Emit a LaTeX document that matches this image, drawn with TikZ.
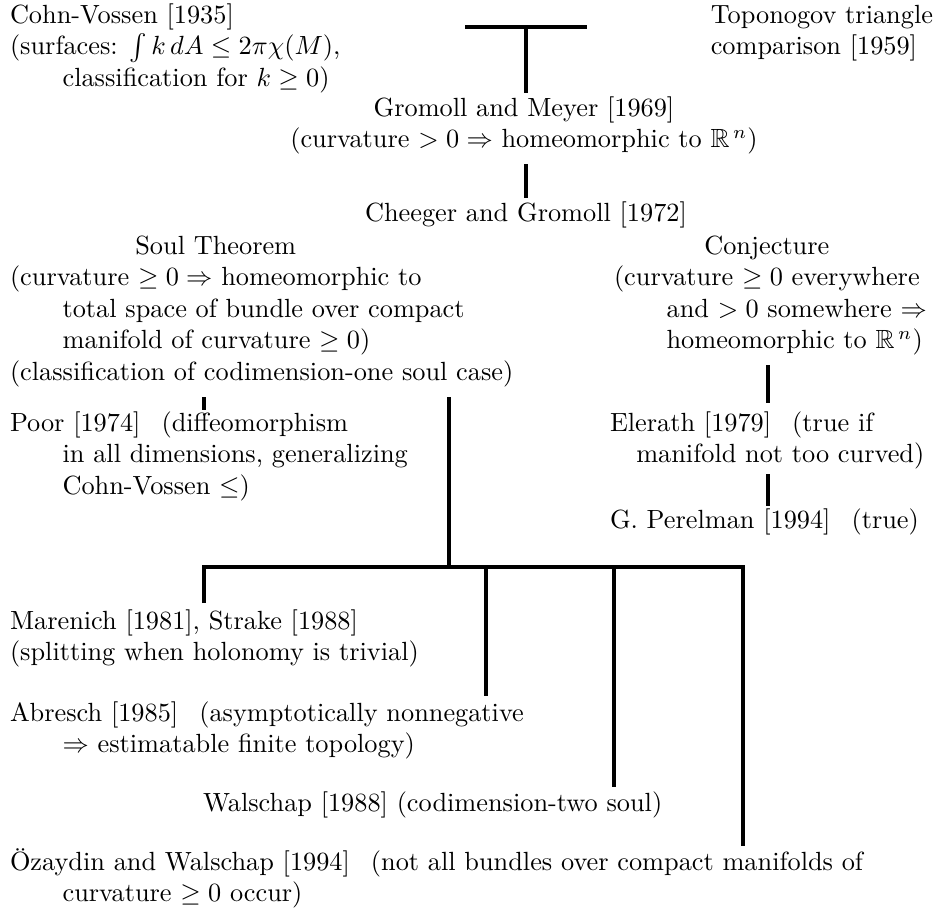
\documentclass[tikz,border=0pt]{standalone}
\usepackage{amssymb}
\usepackage{calc}
\newcommand{\ind}{\hspace*{2em}}
\newcommand{\gap}{\hspace{8pt}}
\begin{document}
\begin{tikzpicture}[x=0.3802pt, y=-0.3802pt,
  txt/.style={inner sep=0pt, outer sep=0pt, anchor=base west},
  ctxt/.style={inner sep=0pt, outer sep=0pt, anchor=base},
  rtxt/.style={inner sep=0pt, outer sep=0pt, anchor=base east},
  link/.style={line width=1.25pt, line cap=butt}]
\useasboundingbox (0,0) rectangle (937,907);

% nodes
\node[txt] (cv) at (10,23) {\begin{tabular}[t]{@{}l@{}}
Cohn-Vossen [1935]\\
(surfaces: $\int k\,dA \le 2\pi\chi(M)$,\\
\ind classification for $k \ge 0$)
\end{tabular}};

\node[rtxt] (topo) at (933,23) {\begin{tabular}[t]{@{}l@{}}
Toponogov triangle\\
comparison [1959]
\end{tabular}};

\node[ctxt] (gm) at (524,116) {\begin{tabular}[t]{@{}c@{}}
Gromoll and Meyer [1969]\\
(curvature $> 0 \Rightarrow$ homeomorphic to $\mathbb{R}^{\,n}$)
\end{tabular}};

\node[ctxt] (cg) at (526,221) {Cheeger and Gromoll [1972]};

\node[txt] (soul) at (10,254) {\begin{tabular}[t]{@{}l@{}}
\makebox[\widthof{(curvature $\ge 0 \Rightarrow$ homeomorphic to}][c]{Soul Theorem}\\
(curvature $\ge 0 \Rightarrow$ homeomorphic to\\
\ind total space of bundle over compact\\
\ind manifold of curvature $\ge 0$)\\
(classification of codimension-one soul case)
\end{tabular}};

\node[txt] (conj) at (614,254) {\begin{tabular}[t]{@{}l@{}}
\makebox[\widthof{(curvature $\ge 0$ everywhere}][c]{Conjecture}\\
(curvature $\ge 0$ everywhere\\
\ind and $> 0$ somewhere $\Rightarrow$\\
\ind homeomorphic to $\mathbb{R}^{\,n}$)
\end{tabular}};

\node[txt] (poor) at (10,431) {\begin{tabular}[t]{@{}l@{}}
Poor [1974]\gap(diffeomorphism\\
\ind in all dimensions, generalizing\\
\ind Cohn-Vossen $\le$)
\end{tabular}};

\node[txt] (eler) at (610,431) {\begin{tabular}[t]{@{}l@{}}
Elerath [1979]\gap(true if\\
\hspace*{1em}manifold not too curved)
\end{tabular}};

\node[txt] (perel) at (610,528) {G. Perelman [1994]\gap(true)};

\node[txt] (maren) at (10,629) {\begin{tabular}[t]{@{}l@{}}
Marenich [1981], Strake [1988]\\
(splitting when holonomy is trivial)
\end{tabular}};

\node[txt] (abr) at (10,721) {\begin{tabular}[t]{@{}l@{}}
Abresch [1985]\gap(asymptotically nonnegative\\
\ind $\Rightarrow$ estimatable finite topology)
\end{tabular}};

\node[txt] (wal) at (203,811) {Walschap [1988] (codimension-two soul)};

\node[txt] (oz) at (10,870) {\begin{tabular}[t]{@{}l@{}}
Özaydin and Walschap [1994]\gap(not all bundles over compact manifolds of\\
\ind curvature $\ge 0$ occur)
\end{tabular}};

% connector coordinates
\coordinate (tl) at (465,27);
\coordinate (tr) at (587,27);
\coordinate (tm) at (526,27);
\coordinate (gmtop) at (526,93);
\coordinate (gmbot) at (526,164);
\coordinate (cgtop) at (526,198);
\coordinate (soulA) at (204,397);
\coordinate (poortop) at (204,410);
\coordinate (soulB) at (449,397);
\coordinate (bar) at (449,567);
\coordinate (b1) at (204,567);
\coordinate (b4) at (743,567);
\coordinate (m1) at (204,603);
\coordinate (b2) at (486,567);
\coordinate (m2) at (486,696);
\coordinate (b3) at (614,567);
\coordinate (m3) at (614,787);
\coordinate (m4) at (743,846);
\coordinate (conjbot) at (768,365);
\coordinate (elertop) at (768,403);
\coordinate (elerbot) at (768,474);
\coordinate (pertop) at (768,506);

% connectors
\draw[link] (tl) -- (tr);
\draw[link] (tm) -- (gmtop);
\draw[link] (gmbot) -- (cgtop);
\draw[link] (soulA) -- (poortop);
\draw[link] (soulB) -- (bar);
\draw[link] (m1) -- (b1) -- (b4) -- (m4);
\draw[link] (b2) -- (m2);
\draw[link] (b3) -- (m3);
\draw[link] (conjbot) -- (elertop);
\draw[link] (elerbot) -- (pertop);
\end{tikzpicture}
\end{document}
